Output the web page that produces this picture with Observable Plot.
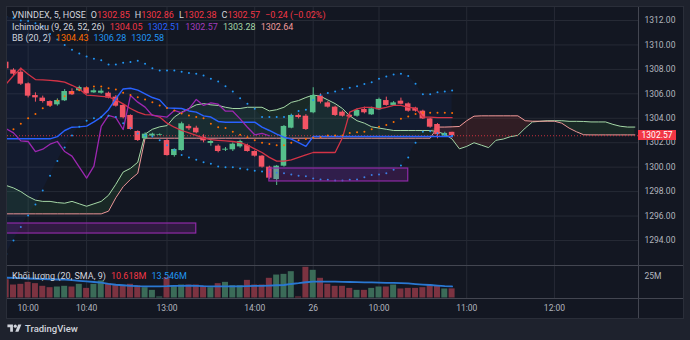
<!DOCTYPE html>
<html><head><meta charset="utf-8">
<script src="https://cdn.jsdelivr.net/npm/d3@7"></script>
<script src="https://cdn.jsdelivr.net/npm/@observablehq/plot@0.6"></script>
<style>
html,body{margin:0;padding:0;background:#1e222d;}
#wrap{position:relative;width:690px;height:340px;overflow:hidden;background:#1e222d;font-family:Roboto,"Liberation Sans",sans-serif;}
#frame{position:absolute;left:6px;top:6px;width:678px;height:313px;box-sizing:border-box;background:#131722;border:1px solid #2a2e39;}
.abs{position:absolute;}
.sep{position:absolute;background:#434651;}
.leg{position:absolute;left:12px;font-size:9px;line-height:11px;color:#d1d4dc;white-space:nowrap;}
.leg span{margin-left:5px;}
.leg span.n{margin-left:0;}
.r{color:#f23645;} .b{color:#2962ff;} .p{color:#a23cbd;} .g{color:#a5d6a7;} .k{color:#ef9a9a;} .o{color:#ff6d00;} .lb{color:#2196f3;}
#plabel{position:absolute;left:638px;width:38px;height:10px;background:#f23645;color:#fff;font-size:8.5px;line-height:10px;text-align:center;}
#logo{position:absolute;left:7px;top:322px;height:12px;display:flex;align-items:center;color:#d1d4dc;font-size:9.5px;font-weight:500;}
</style></head><body>
<div id="wrap">
  <div id="frame"></div>
  <div id="price" class="abs" style="left:7px;top:7px"></div>
  <div id="vol" class="abs" style="left:7px;top:265px"></div>
  <div class="sep" style="left:638px;top:7px;width:1px;height:311px"></div>
  <div class="sep" style="left:7px;top:265px;width:676px;height:1px"></div>
  <div class="sep" style="left:7px;top:298px;width:676px;height:1px"></div>
  <div class="leg" style="top:10px"><span class="n">VNINDEX, 5, HOSE</span><span>O<span class="r n">1302.85</span></span><span>H<span class="r n">1302.86</span></span><span>L<span class="r n">1302.38</span></span><span>C<span class="r n">1302.57</span></span><span class="r">−0.24 (−0.02%)</span></div>
  <div class="leg" style="top:22px"><span class="n">Ichimoku (9, 26, 52, 26)</span><span class="r">1304.05</span><span class="b">1302.51</span><span class="p">1302.57</span><span class="g">1303.28</span><span class="k">1302.64</span></div>
  <div class="leg" style="top:33px"><span class="n">BB (20, 2)</span><span class="o">1304.43</span><span class="lb">1306.28</span><span class="lb">1302.58</span></div>
  <div class="leg" style="top:271px"><span class="n">Khối lượng (20, SMA, 9)</span><span class="r">10.618M</span><span class="lb">13.546M</span></div>
  <div id="plabel">1302.57</div>
  <div id="logo"><svg width="15" height="11" viewBox="0 0 36 28"><path fill="#d1d4dc" d="M14 22H7V11H0V4h14v18z"/><circle fill="#d1d4dc" cx="20" cy="8" r="4"/><path fill="#d1d4dc" d="M28 22h-8l7.5-18h8L28 22z"/></svg><span style="margin-left:3px">TradingView</span></div>
</div>
<script>
// ---- candles (bar index 0 = 09:45, 5-minute bars) ----
const open  = [1308.59,1307.94,1307.77,1306.82,1305.86,1305.65,1305.37,1305.10,1305.43,1306.19,1306.25,1306.49,1306.08,1306.05,1306.05,1305.73,1305.05,1304.23,1302.92,1302.32,1302.54,1302.60,1302.18,1300.95,1301.36,1303.33,1303.19,1302.45,1301.94,1301.72,1301.39,1301.42,1301.66,1301.77,1301.28,1300.90,1300.00,1298.99,1300.08,1303.19,1304.23,1304.17,1304.45,1305.81,1305.26,1304.91,1304.50,1304.25,1304.17,1304.72,1304.28,1304.69,1305.45,1305.05,1305.40,1305.18,1304.83,1304.58,1303.95,1303.49,1302.54,1302.85];
const high  = [1308.70,1308.05,1308.10,1306.90,1306.08,1305.81,1305.43,1305.59,1306.35,1306.41,1306.63,1306.57,1306.41,1306.41,1306.14,1305.86,1305.13,1304.28,1302.97,1302.81,1302.78,1302.72,1302.32,1301.50,1303.68,1303.47,1303.35,1302.65,1302.26,1301.83,1301.61,1301.99,1302.21,1301.88,1301.34,1300.95,1300.08,1300.14,1303.41,1304.34,1304.34,1304.30,1306.50,1306.00,1305.37,1304.99,1304.60,1304.35,1304.77,1304.91,1304.91,1305.65,1305.73,1305.37,1305.65,1305.26,1304.90,1304.66,1304.01,1303.57,1302.86,1302.86];
const low   = [1307.95,1307.50,1306.68,1305.67,1305.32,1305.24,1304.88,1304.99,1305.37,1305.86,1306.19,1305.97,1306.03,1305.97,1305.59,1304.91,1303.95,1303.03,1302.10,1302.26,1302.48,1302.56,1300.90,1300.82,1301.30,1303.00,1302.73,1301.99,1301.72,1301.17,1301.28,1301.28,1301.55,1301.23,1300.82,1299.92,1298.99,1298.50,1300.00,1303.14,1303.95,1303.00,1304.37,1305.18,1304.83,1304.15,1304.10,1304.00,1304.09,1304.36,1304.23,1304.64,1304.99,1304.99,1305.10,1304.50,1304.50,1303.90,1303.19,1302.32,1302.45,1302.38];
const close = [1308.05,1307.61,1306.79,1305.81,1305.67,1305.37,1304.99,1305.45,1306.19,1305.92,1306.52,1306.00,1306.25,1306.22,1305.65,1304.99,1304.04,1303.08,1302.18,1302.70,1302.70,1302.66,1300.95,1301.45,1303.55,1303.14,1302.81,1302.15,1302.10,1301.28,1301.47,1301.88,1302.10,1301.28,1300.90,1300.00,1299.10,1300.08,1303.33,1304.23,1304.06,1303.08,1305.86,1305.32,1304.91,1304.23,1304.17,1304.10,1304.64,1304.45,1304.77,1305.54,1305.05,1305.26,1305.15,1304.58,1304.58,1303.95,1303.27,1302.65,1302.76,1302.57];
// ---- volume (millions) and its SMA ----
const volume = [21.3,15.1,15.9,18.2,16.7,13.6,12.0,12.8,13.6,12.8,15.9,11.2,15.9,19.8,16.7,15.1,13.6,15.9,14.3,12.0,8.9,1.2,23.6,14.3,15.1,15.1,15.1,13.6,12.0,16.7,18.2,14.3,14.3,20.5,15.1,15.1,22.9,26.7,27.5,30.6,1.2,35.7,32.2,22.9,15.9,13.6,13.6,11.2,8.9,8.9,11.2,12.8,12.8,15.1,10.5,11.2,11.2,12.0,15.1,14.3,10.5,10.618];
const volumeMA = [23.6,23.3,23.0,22.7,22.4,22.1,21.8,21.5,21.3,20.7,20.0,19.4,18.6,17.8,16.5,15.4,14.8,14.2,13.7,13.6,13.6,13.6,13.7,14.0,14.2,14.3,14.0,13.7,13.6,13.6,13.6,13.6,13.6,13.8,14.0,14.2,14.5,14.8,15.1,16.3,17.2,18.3,19.0,19.0,19.0,19.0,18.8,18.6,18.4,18.2,18.1,17.9,17.7,17.5,17.4,16.9,16.2,15.6,15.1,14.4,13.8,13.546];
// ---- Ichimoku ----
const tenkan = [1306.8,1307.5,1308.1,1307.6,1307.17,1307.15,1307.1,1307.05,1306.95,1306.7,1306.4,1305.9,1305.85,1305.8,1305.75,1305.5,1305.18,1304.8,1304.5,1304.3,1304.28,1304.1,1303.6,1303.27,1303.0,1302.8,1302.6,1302.37,1302.25,1302.2,1302.15,1302.1,1302.0,1301.8,1301.5,1301.2,1300.8,1300.5,1300.5,1300.6,1300.8,1301.0,1301.2,1301.2,1301.2,1301.2,1302.4,1304.5,1304.77,1304.9,1304.9,1304.77,1304.9,1305.05,1305.05,1304.9,1304.83,1304.09,1304.09,1304.05,1304.05,1304.05];
const kijun = [1302.32,1302.32,1302.32,1302.32,1302.32,1302.32,1302.32,1302.5,1303.0,1303.27,1303.3,1303.36,1303.7,1304.1,1304.7,1305.6,1306.4,1306.46,1306.3,1306.0,1305.7,1305.5,1304.85,1304.82,1304.8,1304.6,1304.5,1304.2,1304.1,1303.74,1303.68,1303.68,1303.68,1303.68,1303.68,1303.27,1303.0,1302.7,1302.45,1302.3,1302.0,1301.7,1302.51,1302.51,1302.51,1302.51,1302.51,1302.51,1302.51,1302.51,1302.51,1302.51,1302.51,1302.51,1302.51,1302.51,1302.51,1302.51,1302.51,1302.51,1302.51,1302.51];
const chikou = [1303.14,1302.81,1302.15,1302.10,1301.28,1301.47,1301.88,1302.10,1301.28,1300.90,1300.0,1299.1,1300.08,1303.33,1304.23,1304.06,1303.08,1305.86,1305.32,1304.91,1304.23,1304.17,1304.1,1304.64,1304.45,1304.77,1305.54,1305.05,1305.26,1305.15,1304.58,1304.58,1303.95,1303.27,1302.65,1302.76,1302.57];
const spanA = [1298.5,1298.3,1298.0,1297.6,1297.3,1297.2,1297.2,1297.1,1297.05,1297.2,1297.0,1296.8,1297.0,1297.2,1297.7,1298.6,1299.6,1299.9,1300.4,1302.7,1303.1,1303.3,1303.4,1304.1,1304.5,1304.8,1305.1,1305.2,1305.1,1305.05,1304.9,1304.8,1304.8,1304.9,1304.9,1304.9,1304.6,1304.7,1304.9,1305.3,1305.45,1305.7,1305.9,1305.8,1305.5,1305.2,1304.8,1304.2,1303.8,1303.6,1303.3,1303.2,1303.1,1303.0,1303.0,1303.0,1303.0,1303.0,1303.0,1302.9,1302.7,1302.3,1301.5,1301.7,1302.0,1301.8,1301.6,1302.2,1302.3,1302.5,1302.6,1303.2,1303.7,1303.75,1303.8,1303.8,1303.8,1303.75,1303.75,1303.74,1303.7,1303.7,1303.7,1303.5,1303.35,1303.28,1303.28];
const spanB = [1296.18,1296.18,1296.18,1296.18,1296.18,1296.18,1296.18,1296.18,1296.18,1296.18,1296.18,1296.18,1296.18,1296.18,1296.4,1297.5,1298.4,1299.0,1299.5,1302.37,1302.37,1302.37,1302.37,1302.37,1302.37,1302.37,1302.37,1302.37,1302.37,1302.37,1302.37,1302.37,1302.37,1302.37,1302.37,1302.37,1302.37,1302.37,1302.37,1302.37,1302.37,1302.37,1302.37,1302.37,1302.37,1302.37,1302.37,1302.37,1302.37,1302.37,1302.37,1302.37,1302.37,1302.37,1302.37,1302.37,1302.37,1302.37,1302.37,1303.28,1303.28,1303.3,1303.33,1303.8,1304.17,1304.2,1304.2,1304.2,1304.2,1304.2,1304.2,1303.8,1303.76,1303.76,1303.76,1303.76,1303.6,1303.2,1302.9,1302.65,1302.64,1302.64,1302.64,1302.64,1302.64,1302.64,1302.64];
// ---- Bollinger Bands (20, 2) ----
const bbUpper = [1312.3,1312.2,1312.0,1311.95,1311.77,1311.5,1310.9,1310.45,1310.0,1309.6,1309.3,1309.05,1308.87,1308.75,1308.4,1308.4,1308.54,1308.6,1308.7,1308.46,1308.1,1307.9,1307.9,1307.9,1307.8,1307.7,1307.64,1307.5,1307.23,1307.0,1306.62,1306.2,1305.64,1305.18,1304.77,1304.1,1304.1,1304.1,1304.1,1304.23,1304.6,1304.7,1305.5,1305.9,1306.06,1306.2,1306.4,1306.5,1306.62,1306.8,1306.95,1307.23,1307.42,1307.58,1307.64,1307.45,1306.82,1305.97,1305.97,1306.13,1306.2,1306.28];
const bbBasis = [1302.6,1303.1,1303.55,1304.0,1304.36,1304.83,1305.1,1305.45,1305.8,1306.1,1306.3,1306.45,1306.6,1306.6,1306.46,1306.35,1306.08,1305.9,1305.73,1305.54,1305.32,1305.05,1304.85,1304.64,1304.4,1304.23,1304.1,1304.0,1303.55,1303.27,1303.2,1302.9,1302.65,1302.45,1302.2,1302.0,1301.9,1301.8,1301.8,1302.0,1302.2,1302.3,1302.4,1302.45,1302.6,1302.6,1302.6,1302.8,1302.85,1302.9,1303.1,1303.3,1303.45,1303.7,1303.96,1304.15,1304.36,1304.45,1304.45,1304.45,1304.45,1304.43];
const bbLower = [1292.9,1294.0,1295.1,1296.05,1296.95,1298.1,1299.3,1300.5,1301.6,1302.6,1303.3,1303.8,1304.0,1304.1,1304.2,1304.1,1303.6,1303.2,1302.76,1302.6,1302.5,1302.2,1301.8,1301.4,1301.0,1300.8,1300.6,1300.4,1300.27,1300.05,1300.0,1300.0,1299.9,1299.8,1299.7,1299.65,1299.6,1299.55,1299.5,1299.4,1299.3,1299.25,1299.07,1299.0,1298.96,1298.9,1298.9,1298.96,1299.0,1299.18,1299.35,1299.4,1299.5,1299.78,1300.14,1300.8,1302.0,1302.9,1302.93,1302.77,1302.7,1302.58];
// ---- drawn zones (bar index range, price range) ----
const zoneStart = [-3, 36];
const zoneEnd   = [26, 55];
const zoneLow   = [1294.57, 1298.83];
const zoneHigh  = [1295.39, 1299.89];
// ---- axes ----
const priceTicks = [1294,1296,1298,1300,1302,1304,1306,1308,1310,1312];
const timeTickIdx = [3, 11, 22, 34, 42, 51, 63, 75];
const timeLabels = ["10:00","10:40","13:00","14:00","26","10:00","11:00","12:00"];
const volTicks = [25];
const lastClose = close[close.length - 1];

const UP = "#56bf8c", DOWN = "#f25464", VUP = "#3b6b58", VDOWN = "#7c3341";
const GRID = "#262a35";
const bars = d3.range(close.length);
const future = d3.range(spanA.length);
const lag = d3.range(chikou.length);
const zones = d3.range(zoneStart.length);
const xScale = {domain: [0.178, 86.5]};
const style = {background: "transparent", color: "#b2b5be", fontSize: "8.5px", fontFamily: "Roboto, 'Liberation Sans', sans-serif", overflow: "visible"};
const up = i => close[i] >= open[i];

const price = Plot.plot({
  width: 676, height: 258, marginLeft: 0, marginRight: 45, marginTop: 0, marginBottom: 0,
  x: {...xScale, axis: null},
  y: {domain: [1291.954, 1313.064]},
  style,
  marks: [
    Plot.ruleY(priceTicks, {stroke: GRID, strokeWidth: 1}),
    Plot.ruleX(timeTickIdx, {stroke: GRID, strokeWidth: 1}),
    Plot.axisY({anchor: "right", ticks: priceTicks, tickSize: 0, tickPadding: 6, tickFormat: d => d.toFixed(2), label: null, fill: "#b2b5be"}),
    // Bollinger fill
    Plot.areaY(bars, {x: i => i, y1: i => bbLower[i], y2: i => bbUpper[i], fill: "#2962ff", fillOpacity: 0.06, clip: true}),
    // Ichimoku cloud
    Plot.areaY(future, {x: i => i, y1: i => spanB[i], y2: i => Math.max(spanA[i], spanB[i]), fill: "#43a047", fillOpacity: 0.13, clip: true}),
    Plot.areaY(future, {x: i => i, y1: i => spanA[i], y2: i => Math.max(spanA[i], spanB[i]), fill: "#f44336", fillOpacity: 0.13, clip: true}),
    Plot.line(future, {x: i => i, y: i => spanA[i], stroke: "#a5d6a7", strokeWidth: 1, clip: true}),
    Plot.line(future, {x: i => i, y: i => spanB[i], stroke: "#ef9a9a", strokeWidth: 1, clip: true}),
    // price line
    Plot.ruleY([lastClose], {stroke: "#f23645", strokeWidth: 1, strokeDasharray: "1,2", strokeOpacity: 0.8}),
    // candles
    Plot.ruleX(bars, {x: i => i, y1: i => low[i], y2: i => high[i], stroke: i => up(i) ? UP : DOWN, strokeWidth: 1, clip: true}),
    Plot.rect(bars, {x1: i => i - 0.38, x2: i => i + 0.38, y1: i => open[i], y2: i => close[i], fill: i => up(i) ? UP : DOWN, clip: true}),
    // Ichimoku lines
    Plot.line(bars, {x: i => i, y: i => tenkan[i], stroke: "#d33346", strokeWidth: 1.3, clip: true}),
    Plot.line(bars, {x: i => i, y: i => kijun[i], stroke: "#2962ff", strokeWidth: 1.4, clip: true}),
    Plot.line(lag, {x: i => i, y: i => chikou[i], stroke: "#9c27b0", strokeWidth: 1.3, clip: true}),
    // Bollinger dots
    Plot.dot(bars, {x: i => i, y: i => bbUpper[i], r: 1, fill: "#2196f3", stroke: null, clip: true}),
    Plot.dot(bars, {x: i => i, y: i => bbLower[i], r: 1, fill: "#2196f3", stroke: null, clip: true}),
    Plot.dot(bars, {x: i => i, y: i => bbBasis[i], r: 1, fill: "#ff6d00", stroke: null, clip: true}),
    // zones
    Plot.rect(zones, {x1: k => zoneStart[k], x2: k => zoneEnd[k], y1: k => zoneLow[k], y2: k => zoneHigh[k], fill: "#9c27b0", fillOpacity: 0.22, stroke: "#8e2aa6", strokeWidth: 1.2, clip: true})
  ]
});
document.getElementById("price").appendChild(price);

const vol = Plot.plot({
  width: 676, height: 53, marginLeft: 0, marginRight: 45, marginTop: 0, marginBottom: 20,
  x: xScale,
  y: {domain: [-0.58, 37.79]},
  style,
  marks: [
    Plot.ruleX(timeTickIdx, {stroke: GRID, strokeWidth: 1, y1: -0.58, y2: 37.79}),
    Plot.rect(bars, {x1: i => i - 0.41, x2: i => i + 0.41, y1: 0, y2: i => volume[i], fill: i => up(i) ? VUP : VDOWN, clip: true}),
    Plot.line(bars, {x: i => i, y: i => volumeMA[i], stroke: "#2a78d2", strokeWidth: 1.8, clip: true}),
    Plot.axisY({anchor: "right", ticks: volTicks, tickSize: 0, tickPadding: 6, tickFormat: d => d + "M", label: null, fill: "#b2b5be"}),
    Plot.axisX({anchor: "bottom", ticks: timeTickIdx, tickSize: 0, tickPadding: 6, tickFormat: d => timeLabels[timeTickIdx.indexOf(d)], label: null, fill: "#b2b5be"})
  ]
});
document.getElementById("vol").appendChild(vol);

const yPix = price.scale("y").apply(lastClose);
document.getElementById("plabel").style.top = (7 + yPix - 5) + "px";
</script>
</body></html>
